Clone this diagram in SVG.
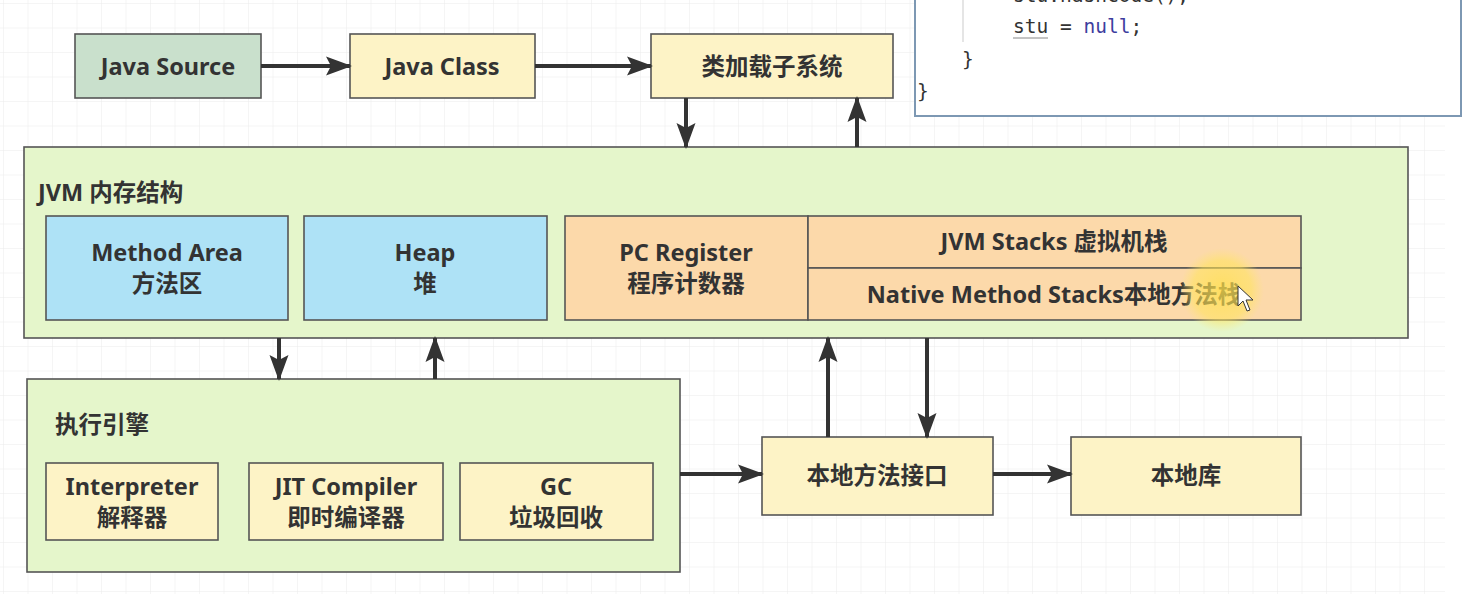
<svg xmlns="http://www.w3.org/2000/svg" width="1467" height="594" viewBox="0 0 1467 594">
<defs>
<pattern id="grid" width="24.5" height="24.5" patternUnits="userSpaceOnUse" x="4" y="4">
<path d="M24.5 0 V24.5 M0 24.5 H24.5" fill="none" stroke="#ebebeb" stroke-width="1"/>
</pattern>
<marker id="ah" markerUnits="userSpaceOnUse" markerWidth="26" markerHeight="22" refX="24" refY="11" orient="auto">
<path d="M0 1.5 L26 11 L0 20.5 L5 11 Z" fill="#333"/>
</marker>
<radialGradient id="glow">
<stop offset="0" stop-color="#ffe04a" stop-opacity="0.75"/>
<stop offset="0.7" stop-color="#ffe45a" stop-opacity="0.55"/>
<stop offset="1" stop-color="#ffe870" stop-opacity="0"/>
</radialGradient>
</defs>
<style>
.box{stroke:#555;stroke-width:1.6}
.src{fill:#c9e0cc}
.yel{fill:#fdf3c6}
.grn{fill:#e5f6cb}
.blu{fill:#aee2f6}
.org{fill:#fcd9aa}
.t{font-family:"Noto Sans","Noto Sans CJK SC",sans-serif;font-weight:700;font-size:23.5px;fill:#333;text-anchor:middle}
.lbl{text-anchor:start}
.code{font-family:"DejaVu Sans Mono","Liberation Mono",monospace;font-size:19.5px;fill:#333}
.c{stroke:#333;stroke-width:4;fill:none;marker-end:url(#ah)}
</style>
<rect width="1467" height="594" fill="#fff"/>
<rect x="0" y="0" width="1445" height="594" fill="url(#grid)"/>

<g id="code-panel">
<rect x="915" y="-4" width="546" height="120" fill="#fff" stroke="#7d98b3" stroke-width="2"/>
<line x1="963" y1="0" x2="963" y2="42" stroke="#ddd" stroke-width="1.5"/>
<text class="code" x="1013" y="2">stu.hashCode();</text>
<text class="code" x="1013" y="33">stu = <tspan fill="#3d3d9e">null</tspan>;</text>
<line x1="1013" y1="38" x2="1048" y2="38" stroke="#888" stroke-width="1"/>
<text class="code" x="962" y="66">}</text>
<text class="code" x="917" y="98">}</text>
</g>

<g id="java-source"><rect class="box src" x="75" y="34" width="186" height="64"/><text class="t" x="168" y="75">Java Source</text></g>
<g id="java-class"><rect class="box yel" x="350" y="34" width="185" height="64"/><text class="t" x="442" y="75">Java Class</text></g>
<g id="class-loader"><rect class="box yel" x="651" y="34" width="242" height="64"/><text class="t" x="772" y="75">类加载子系统</text></g>

<g id="jvm-memory">
<rect class="box grn" x="24" y="147" width="1384" height="191"/>
<text class="t lbl" x="38" y="201">JVM 内存结构</text>
</g>
<g id="method-area"><rect class="box blu" x="46" y="216" width="242" height="104"/><text class="t" x="167" y="261">Method Area</text><text class="t" x="167" y="292">方法区</text></g>
<g id="heap"><rect class="box blu" x="304" y="216" width="243" height="104"/><text class="t" x="425" y="261">Heap</text><text class="t" x="425" y="292">堆</text></g>
<g id="pc-register"><rect class="box org" x="565" y="216" width="243" height="104"/><text class="t" x="686" y="261">PC Register</text><text class="t" x="686" y="292">程序计数器</text></g>
<g id="jvm-stacks"><rect class="box org" x="808" y="216" width="493" height="52"/><text class="t" x="1054" y="250">JVM Stacks 虚拟机栈</text></g>
<g id="native-stacks"><rect class="box org" x="808" y="268" width="493" height="52"/><text class="t" x="1054" y="303">Native Method Stacks本地方法栈</text></g>

<g id="exec-engine">
<rect class="box grn" x="27" y="379" width="653" height="193"/>
<text class="t lbl" x="55" y="433">执行引擎</text>
</g>
<g id="interpreter"><rect class="box yel" x="46" y="463" width="172" height="77"/><text class="t" x="132" y="495">Interpreter</text><text class="t" x="132" y="526">解释器</text></g>
<g id="jit"><rect class="box yel" x="249" y="463" width="194" height="77"/><text class="t" x="346" y="495">JIT Compiler</text><text class="t" x="346" y="526">即时编译器</text></g>
<g id="gc"><rect class="box yel" x="460" y="463" width="193" height="77"/><text class="t" x="556" y="495">GC</text><text class="t" x="556" y="526">垃圾回收</text></g>

<g id="native-interface"><rect class="box yel" x="762" y="437" width="231" height="78"/><text class="t" x="877" y="484">本地方法接口</text></g>
<g id="native-lib"><rect class="box yel" x="1071" y="437" width="230" height="78"/><text class="t" x="1186" y="484">本地库</text></g>

<g id="connectors">
<line class="c" x1="261" y1="66" x2="350" y2="66"/>
<line class="c" x1="535" y1="66" x2="651" y2="66"/>
<line class="c" x1="686" y1="98" x2="686" y2="147"/>
<line class="c" x1="857" y1="147" x2="857" y2="98"/>
<line class="c" x1="279" y1="338" x2="279" y2="379"/>
<line class="c" x1="435" y1="379" x2="435" y2="338"/>
<line class="c" x1="680" y1="474" x2="762" y2="474"/>
<line class="c" x1="993" y1="474" x2="1071" y2="474"/>
<line class="c" x1="828" y1="437" x2="828" y2="338"/>
<line class="c" x1="927" y1="338" x2="927" y2="437"/>
</g>

<g id="cursor">
<circle cx="1222" cy="290" r="42" fill="url(#glow)"/>
<path d="M1238 286 L1238 306 L1243 301 L1247 311 L1250 310 L1246 300 L1253 300 Z" fill="#fff" stroke="#333" stroke-width="1"/>
</g>
</svg>
